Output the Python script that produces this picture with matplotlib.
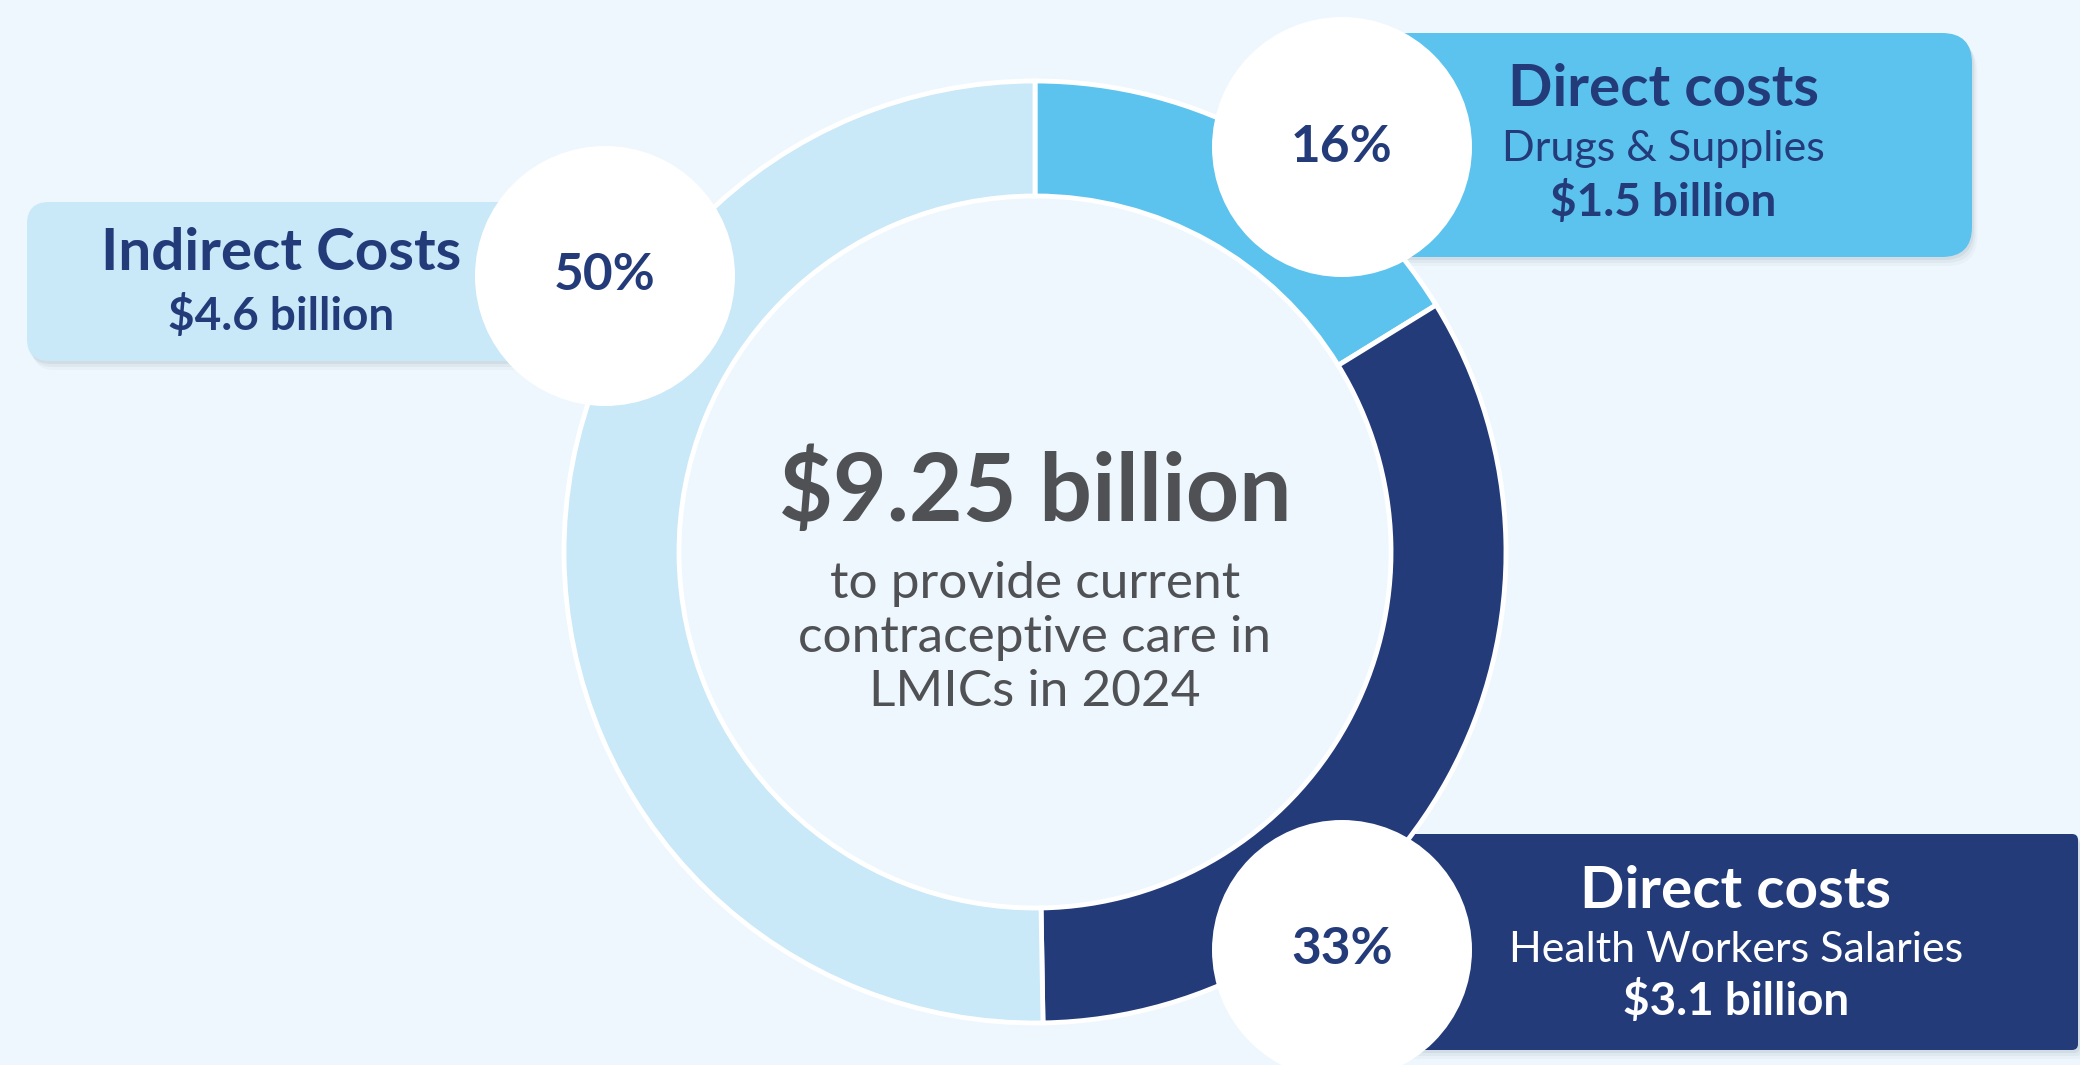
import matplotlib
matplotlib.use("Agg")
import matplotlib.pyplot as plt
from matplotlib.patches import FancyBboxPatch, Circle

# data
segments = ["Drugs & Supplies", "Health Workers Salaries", "Indirect Costs"]
billions = [1.5, 3.1, 4.65]
amount_labels = ["$1.5 billion", "$3.1 billion", "$4.6 billion"]
shares = ["16%", "33%", "50%"]
total_label = "$9.25 billion"
colors = ["#5CC3EE", "#243B7A", "#C9E8F8"]

plt.rcParams["font.family"] = ["Lato", "DejaVu Sans"]

W, H = 2080, 1065
bg = "#EDF7FD"
navy = "#243B7A"
gray = "#4F5155"

fig = plt.figure(figsize=(W / 100, H / 100), dpi=100, facecolor=bg)
ax = fig.add_axes([0, 0, 1, 1])
ax.set_facecolor(bg)


def box(x0, y0, x1, y1, color, r):
    # soft shadow then the box itself
    for k, a in [(9, 0.05), (6, 0.08), (3, 0.12)]:
        sh = FancyBboxPatch((x0 + k * 0.6, y0 - k), x1 - x0, y1 - y0,
                            boxstyle=f"round,pad=0,rounding_size={r}",
                            fc="#7f8a96", ec="none", alpha=a, zorder=1)
        ax.add_patch(sh)
    ax.add_patch(FancyBboxPatch((x0, y0), x1 - x0, y1 - y0,
                                boxstyle=f"round,pad=0,rounding_size={r}",
                                fc=color, ec="none", zorder=2))


# label boxes (y measured from bottom)
box(27, 704, 560, 863, colors[2], 22)
box(1380, 808, 1972, 1032, colors[0], 30)
box(1400, 15, 2078, 231, colors[1], 6)

# donut
cx, cy = 1035, 513
wedges, _ = ax.pie(billions, colors=colors, startangle=90, counterclock=False,
                   radius=471, center=(cx, cy),
                   wedgeprops=dict(width=115, edgecolor="white", linewidth=3.5))
for w in wedges:
    w.set_zorder(3)

# white bubbles with shares
bubbles = [(1342, 918), (1342, 115), (605, 789)]
for (bx, by), s in zip(bubbles, shares):
    ax.add_patch(Circle((bx, by), 130, fc="white", ec="none", zorder=5))
    ax.text(bx, by, s, ha="center", va="center", fontsize=37, fontweight="bold",
            color=navy, zorder=6)

# box texts
ax.text(281, 811, "Indirect Costs", ha="center", va="center", fontsize=42,
        fontweight="bold", color=navy, zorder=6)
ax.text(281, 749, amount_labels[2], ha="center", va="center", fontsize=33,
        fontweight="bold", color=navy, zorder=6)

ax.text(1663, 976, "Direct costs", ha="center", va="center", fontsize=42,
        fontweight="bold", color=navy, zorder=6)
ax.text(1663, 916, segments[0], ha="center", va="center", fontsize=31,
        color=navy, zorder=6)
ax.text(1663, 863, amount_labels[0], ha="center", va="center", fontsize=33,
        fontweight="bold", color=navy, zorder=6)

ax.text(1736, 174, "Direct costs", ha="center", va="center", fontsize=42,
        fontweight="bold", color="white", zorder=6)
ax.text(1736, 115, segments[1], ha="center", va="center", fontsize=31,
        color="white", zorder=6)
ax.text(1736, 64, amount_labels[1], ha="center", va="center", fontsize=33,
        fontweight="bold", color="white", zorder=6)

# centre text
ax.text(cx, 572, total_label, ha="center", va="center", fontsize=67,
        fontweight="bold", color=gray, zorder=6)
ax.text(cx, 427, "to provide current\ncontraceptive care in\nLMICs in 2024",
        ha="center", va="center", fontsize=37, color=gray, linespacing=1.22,
        zorder=6)

ax.set_xlim(0, W)
ax.set_ylim(0, H)
ax.set_aspect("equal")
ax.axis("off")

fig.savefig("out.png", dpi=100, facecolor=bg)
